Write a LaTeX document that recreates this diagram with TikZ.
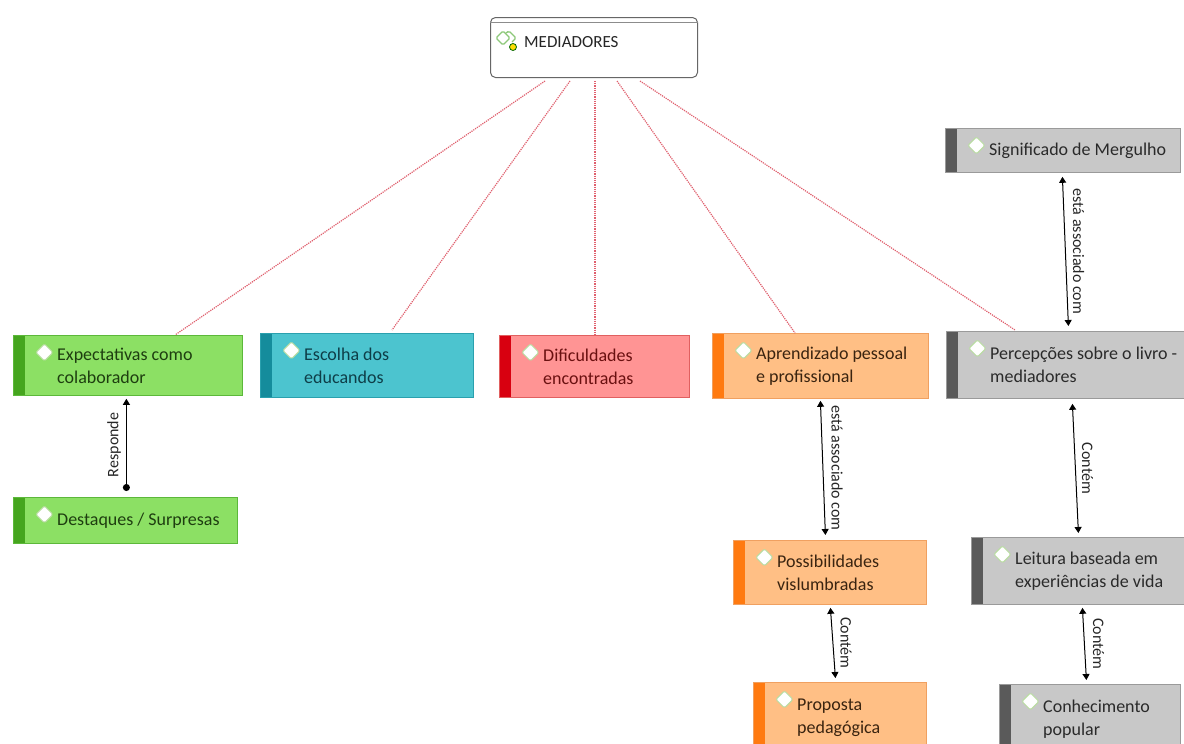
\documentclass[tikz,border=0pt]{standalone}
\usepackage{fontspec}
\setmainfont{Carlito}
\usetikzlibrary{arrows.meta,calc}
\definecolor{gfill}{HTML}{8CE064}\definecolor{gbar}{HTML}{45A51E}\definecolor{gline}{HTML}{5CB83A}\definecolor{gtext}{HTML}{1E3E10}
\definecolor{cfill}{HTML}{4CC4CF}\definecolor{cbar}{HTML}{158C9C}\definecolor{cline}{HTML}{2AA0AE}\definecolor{ctext}{HTML}{0E3E48}
\definecolor{rfill}{HTML}{FF9494}\definecolor{rbar}{HTML}{D80010}\definecolor{rline}{HTML}{E06060}\definecolor{rtext}{HTML}{6A1010}
\definecolor{ofill}{HTML}{FFBF85}\definecolor{obar}{HTML}{FF7A10}\definecolor{oline}{HTML}{F0A060}\definecolor{otext}{HTML}{3A2410}
\definecolor{kfill}{HTML}{C8C8C8}\definecolor{kbar}{HTML}{5A5A5A}\definecolor{kline}{HTML}{9A9A9A}\definecolor{ktext}{HTML}{2A2A2A}
\definecolor{icongreen}{HTML}{B8DCA0}
\definecolor{medgreen}{HTML}{8CC878}
\definecolor{dotred}{HTML}{E0606E}
\tikzset{
  box/.style={draw=#1line, fill=#1fill, line width=0.8pt, inner sep=0pt,
    path picture={
      \fill[#1bar] (path picture bounding box.north west) rectangle ([xshift=12pt]path picture bounding box.south west);
      \filldraw[fill=white, draw=icongreen, line width=1pt, rounded corners=1.5pt]
        ([shift={(22.5pt,-17pt)}]path picture bounding box.north west)
        -- ++(8.5pt,8.5pt) -- ++(8.5pt,-8.5pt) -- ++(-8.5pt,-8.5pt) -- cycle;
    }},
  boxtext/.style={inner sep=0pt, align=left, font=\fontsize{18}{23}\selectfont, text=#1text},
  conn/.style={draw=black, line width=1pt, {Triangle[width=7pt,length=6pt]}-{Triangle[width=7pt,length=6pt]}},
  lbl/.style={font=\fontsize{16}{19}\selectfont, text=black!85, inner sep=2pt},
  dots/.style={draw=dotred, densely dotted, line width=1.2pt},
}
\newcommand\mkbox[7]{%
  \node[box=#6, minimum width=#4pt, minimum height=#5pt, anchor=north west] (#1) at (#2,#3) {};
  \node[boxtext=#6, anchor=west] (#1-t) at ([xshift=44pt]#1.west) {#7};
}
\begin{document}
\begin{tikzpicture}[x=1pt,y=-1pt]
\useasboundingbox (0,0) rectangle (1184,744);
\clip (0,0) rectangle (1184,744);
\fill[white] (0,0) rectangle (1184,744);

% central node
\node[draw=black!60, fill=white, line width=1pt, rounded corners=5pt,
      minimum width=207pt, minimum height=60pt, anchor=north west] (med) at (490,17) {};
\draw[black!45, line width=0.8pt] ([yshift=-5pt]med.north west) -- ([yshift=-5pt]med.north east);
\draw[medgreen, line width=1.3pt, rounded corners=1.5pt] (496,38) -- (503,31) -- (510,38) -- (503,45) -- cycle;
\draw[medgreen, line width=1.3pt, rounded corners=1.5pt] (506,33) -- (509,31) -- (516,38) -- (512,42);
\filldraw[fill=yellow!80!orange, draw=green!40!black, line width=0.8pt] (513,47) circle (3.5pt);
\node[anchor=west, inner sep=0pt, font=\fontsize{17}{20}\selectfont, text=black!85] (med-t) at (524,42) {MEDIADORES};

% boxes
\mkbox{expect}{13}{335}{229}{60}{g}{Expectativas como\\colaborador}
\mkbox{escolha}{260}{333}{213}{64}{c}{Escolha dos\\educandos}
\mkbox{dific}{499}{335}{190}{62}{r}{Dificuldades\\encontradas}
\mkbox{aprend}{712}{333}{216}{65}{o}{Aprendizado pessoal\\e profissional}
\mkbox{percep}{946}{331}{250}{67}{k}{Percepções sobre o livro -\\mediadores}
\mkbox{signif}{945}{128}{235}{44}{k}{Significado de Mergulho}
\mkbox{destaq}{13}{497}{224}{46}{g}{Destaques / Surpresas}
\mkbox{poss}{733}{540}{193}{64}{o}{Possibilidades\\vislumbradas}
\mkbox{prop}{753}{682}{173}{70}{o}{Proposta\\pedagógica}
\mkbox{leit}{971}{537}{230}{67}{k}{Leitura baseada em\\experiências de vida}
\mkbox{conh}{999}{684}{181}{70}{k}{Conhecimento\\popular}
% dotted connectors
\draw[dots] ([xshift=55pt,yshift=-3pt]med.south west) -- ([xshift=162pt]expect.north west);
\draw[dots] ([xshift=80pt,yshift=-3pt]med.south west) -- ([xshift=132pt,yshift=3pt]escolha.north west);
\draw[dots] ([xshift=105pt,yshift=-3pt]med.south west) -- ([xshift=96pt]dific.north west);
\draw[dots] ([xshift=127pt,yshift=-3pt]med.south west) -- ([xshift=83pt]aprend.north west);
\draw[dots] ([xshift=150pt,yshift=-3pt]med.south west) -- ([xshift=69pt,yshift=1pt]percep.north west);

% relation connectors
\draw[conn, {Triangle[width=7pt,length=6pt]}-{Circle[length=7pt]}]
  ([xshift=-1.5pt,yshift=-3pt]expect.south) -- node[lbl, midway, rotate=90, above=3pt] (l1) {Responde} ([xshift=1pt,yshift=6pt]destaq.north);
\draw[conn] ([yshift=-2pt]aprend.south) -- node[lbl, midway, rotate=-90, above=6pt] (l2) {está associado com} ([xshift=-4.5pt,yshift=5pt]poss.north);
\draw[conn] ([xshift=0.5pt,yshift=-3pt]poss.south) -- node[lbl, midway, rotate=-90, above=5pt] (l3) {Contém} ([xshift=-4.5pt,yshift=4pt]prop.north);
\draw[conn] ([xshift=-0.5pt,yshift=-4pt]signif.south) -- node[lbl, midway, rotate=-90, above=5pt] (l4) {está associado com} ([xshift=-3pt,yshift=5pt]percep.north);
\draw[conn] ([xshift=1pt,yshift=-5pt]percep.south) -- node[lbl, midway, rotate=-90, above=4pt] (l5) {Contém} ([xshift=-8pt,yshift=4pt]leit.north);
\draw[conn] ([xshift=-4pt,yshift=-3pt]leit.south) -- node[lbl, midway, rotate=-90, above=6pt] (l6) {Contém} ([xshift=-3.5pt,yshift=4pt]conh.north);
\end{tikzpicture}
\end{document}
